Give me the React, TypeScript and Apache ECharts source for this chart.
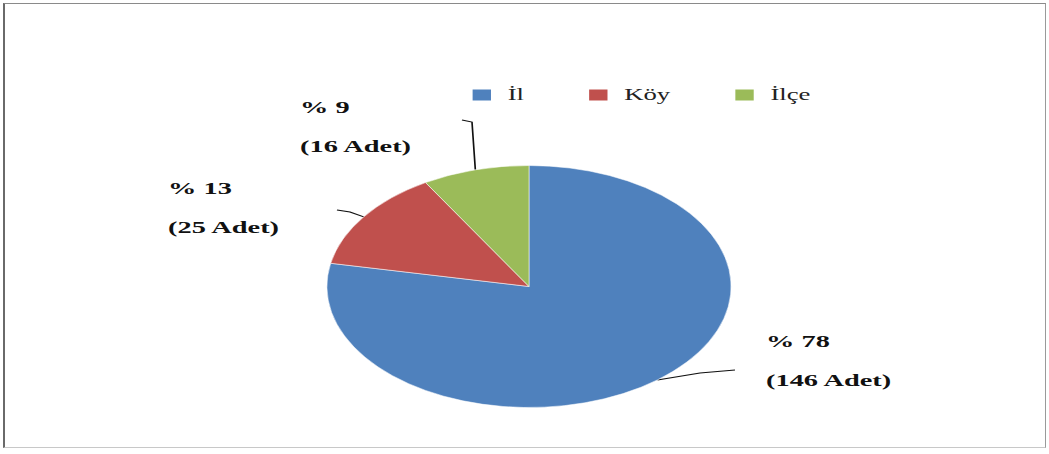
import React, { useEffect, useRef } from "react";
import * as echarts from "echarts";

// ---- data ----
const categories = ["İl", "Köy", "İlçe"];
const counts = [146, 25, 16];
const colors = ["#4F81BD", "#C0504D", "#9BBB59"];

// ---- layout (the reference is horizontally stretched) ----
const SX = 1.67;
const W = 1049;
const H = 454;
const CW = W / SX;

const labelPos = [
  { x: 766 / SX, y: 361 },
  { x: 168 / SX, y: 208 },
  { x: 300 / SX, y: 127 },
];
const labelLineRest = [
  [[700 / SX, 373], [735 / SX, 370]],
  [[350 / SX, 212], [337 / SX, 210]],
  [[472 / SX, 122], [462 / SX, 120]],
];

const FONT = "'Liberation Serif', 'DejaVu Serif', serif";

export default function App() {
  const ref = useRef<HTMLDivElement>(null);

  useEffect(() => {
    if (!ref.current) return;
    const chart = echarts.init(ref.current, undefined, { renderer: "svg" });
    chart.setOption({
      animation: false,
      color: colors,
      legend: {
        left: 281,
        top: 87,
        padding: 0,
        itemWidth: 13,
        itemHeight: 13,
        itemGap: 37,
        icon: "rect",
        data: categories,
        textStyle: {
          fontFamily: FONT,
          fontSize: 16,
          color: "#222",
          padding: [0, 0, 0, 4],
        },
      },
      series: [
        {
          type: "pie",
          center: [529 / SX, 286.5],
          radius: 121,
          startAngle: 90,
          clockwise: true,
          percentPrecision: 0,
          itemStyle: { borderColor: "#ffffff", borderWidth: 0.4 },
          label: {
            show: true,
            position: "outside",
            fontFamily: FONT,
            fontWeight: "bold",
            fontSize: 17,
            lineHeight: 39,
            color: "#111",
            align: "left",
            formatter: (p: any) => `% ${p.percent}\n(${p.value} Adet)`,
          },
          labelLine: {
            show: true,
            lineStyle: { color: "#111", width: 1 },
          },
          labelLayout: (params: any) => {
            const i = params.dataIndex;
            const start = params.labelLinePoints
              ? params.labelLinePoints[0]
              : [labelPos[i].x, labelPos[i].y];
            return {
              x: labelPos[i].x,
              y: labelPos[i].y,
              align: "left",
              verticalAlign: "middle",
              labelLinePoints: [start, ...labelLineRest[i]],
            };
          },
          data: categories.map((name, i) => ({ name, value: counts[i] })),
        },
      ],
    });
    return () => chart.dispose();
  }, []);

  return (
    <div
      style={{
        position: "fixed",
        left: 0,
        top: 0,
        width: W,
        height: H,
        background: "#fff",
        overflow: "hidden",
      }}
    >
      <div
        style={{
          position: "absolute",
          left: 3,
          top: 3,
          width: 1043,
          height: 445,
          boxSizing: "border-box",
          borderTop: "1px solid #8a8a8a",
          borderRight: "1px solid #9a9a9a",
          borderBottom: "1px solid #c8c8c8",
          borderLeft: "2px solid #6a6a6a",
        }}
      />
      <div
        ref={ref}
        style={{
          position: "absolute",
          left: 0,
          top: 0,
          width: CW,
          height: H,
          transform: `scaleX(${SX})`,
          transformOrigin: "0 0",
        }}
      />
    </div>
  );
}
